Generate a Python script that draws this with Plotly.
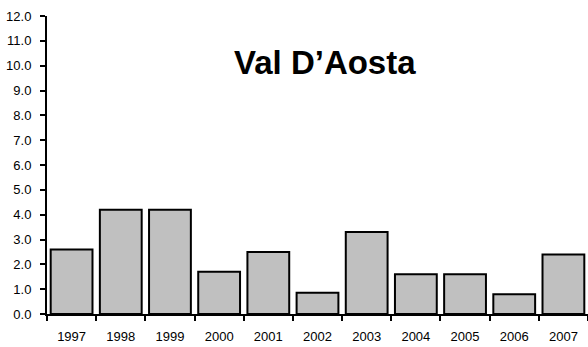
import plotly.graph_objects as go

# Annual values for Val D'Aosta
years = ["1997", "1998", "1999", "2000", "2001", "2002",
         "2003", "2004", "2005", "2006", "2007"]
values = [2.6, 4.2, 4.2, 1.7, 2.5, 0.86, 3.3, 1.6, 1.6, 0.8, 2.4]
y_ticks = [0, 1, 2, 3, 4, 5, 6, 7, 8, 9, 10, 11, 12]
y_tick_text = [f"{v:.1f}" for v in y_ticks]
title_text = "Val D’Aosta"

FONT = "Liberation Sans, Arial, sans-serif"

fig = go.Figure(
    go.Bar(
        x=years,
        y=values,
        marker=dict(color="#c0c0c0", line=dict(color="black", width=2)),
        hoverinfo="x+y",
    )
)

fig.update_layout(
    width=588,
    height=347,
    margin=dict(l=47, r=0, t=16, b=33),
    paper_bgcolor="white",
    plot_bgcolor="white",
    bargap=0.15,
    showlegend=False,
    font=dict(family=FONT, size=13, color="black"),
    annotations=[
        dict(
            text=f"<b>{title_text}</b>",
            xref="paper", yref="paper",
            x=0.514, y=0.845,
            xanchor="center", yanchor="middle",
            showarrow=False,
            font=dict(family=FONT, size=33, color="black"),
        )
    ],
)

fig.update_xaxes(
    type="category",
    showline=True, linecolor="black", linewidth=2,
    ticks="outside", tickson="boundaries", ticklen=5, tickwidth=1.5, tickcolor="black",
    showgrid=False, zeroline=False,
    ticklabelstandoff=9,
    tickfont=dict(family=FONT, size=13, color="black"),
)

fig.update_yaxes(
    range=[0, 12],
    tickvals=y_ticks, ticktext=y_tick_text,
    showline=True, linecolor="black", linewidth=2,
    ticks="outside", ticklen=5, tickwidth=1.5, tickcolor="black",
    showgrid=False, zeroline=False,
    ticklabelstandoff=6,
    tickfont=dict(family=FONT, size=13, color="black"),
)

fig.write_html("out.html")
